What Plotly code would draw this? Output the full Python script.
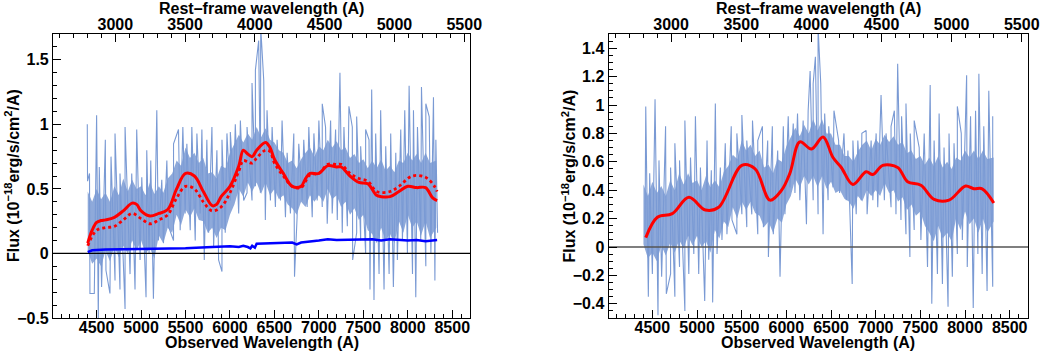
import plotly.graph_objects as go

# redshift factor used for the rest-frame (top) axis
ONE_PLUS_Z = 1.57
X_RANGE = [4010, 8705]

# ---- left panel: noisy spectrum, read as upper / lower excursions ----
left_hi_wl = [4395, 4420, 4500, 4530, 4598, 4662, 4707, 4763, 4820, 4895, 4951, 5008, 5064, 5109,
              5177, 5233, 5290, 5365, 5421, 5470, 5515, 5571, 5628, 5684, 5740, 5797, 5853, 5910,
              5966, 6004, 6060, 6117, 6192, 6248, 6286, 6323, 6346, 6380, 6417, 6474, 6530, 6586,
              6643, 6718, 6774, 6830, 6887, 6944, 7000, 7038, 7075, 7132, 7188, 7237, 7282, 7338,
              7376, 7425, 7470, 7526, 7564, 7594, 7639, 7695, 7752, 7808, 7865, 7921, 7966, 8015,
              8064, 8109, 8154, 8203, 8241, 8289, 8316]
left_hi = [1.00, 0.62, 1.07, 0.67, 0.88, 0.75, 0.93, 0.62, 0.98, 0.62, 0.96, 0.59, 0.80, 0.72,
           1.11, 0.57, 0.72, 0.85, 0.96, 0.98, 0.85, 0.98, 0.93, 0.96, 0.88, 0.98, 0.80, 0.88,
           0.93, 0.94, 1.00, 1.03, 0.98, 1.32, 1.42, 1.65, 1.75, 1.34, 1.11, 0.98, 0.88, 1.03,
           0.78, 0.93, 0.85, 0.88, 0.98, 0.93, 1.03, 1.16, 0.98, 1.03, 0.96, 1.40, 0.98, 1.14,
           0.98, 1.06, 0.83, 0.96, 0.88, 1.27, 0.93, 1.11, 0.83, 0.93, 0.78, 0.96, 1.11, 1.30,
           1.11, 0.98, 1.29, 1.16, 1.06, 1.21, 0.88]
left_lo_wl = [4398, 4425, 4474, 4519, 4556, 4605, 4650, 4707, 4763, 4820, 4876, 4932, 4989, 5056,
              5090, 5139, 5195, 5252, 5308, 5365, 5440, 5496, 5553, 5609, 5665, 5711, 5760, 5816,
              5872, 5910, 5947, 6004, 6041, 6098, 6154, 6192, 6248, 6286, 6342, 6398, 6455, 6511,
              6568, 6624, 6680, 6726, 6755, 6812, 6868, 6925, 6981, 7038, 7094, 7150, 7207, 7263,
              7320, 7380, 7425, 7470, 7526, 7575, 7620, 7677, 7733, 7790, 7838, 7883, 7940, 7996,
              8053, 8090, 8146, 8203, 8260, 8305, 8335]
left_lo = [0.56, -0.31, -0.31, -0.52, -0.26, -0.13, -0.31, -0.21, -0.28, -0.43, -0.16, -0.28, -0.05, -0.34,
           0.00, -0.35, 0.10, 0.08, 0.21, 0.10, 0.18, 0.31, 0.18, 0.10, 0.31, -0.05, 0.16, 0.05,
           -0.05, -0.14, 0.16, 0.41, 0.52, 0.31, 0.41, 0.47, 0.41, 0.52, 0.47, 0.26, 0.41, 0.36,
           0.41, 0.28, 0.31, -0.18, 0.28, 0.41, 0.36, 0.28, 0.41, 0.36, 0.23, 0.31, 0.26, 0.16,
           0.21, -0.05, 0.16, 0.10, 0.00, -0.28, -0.36, -0.16, -0.28, -0.16, -0.26, -0.05, 0.10, 0.00,
           -0.16, -0.34, 0.10, -0.10, 0.00, -0.21, 0.16]

# dense core of the spectrum (where most of the pixels pile up), jagged edges
core_wl = [4400, 4450, 4500, 4550, 4600, 4650, 4700, 4750, 4800, 4850, 4900, 4950, 5000, 5050,
           5100, 5150, 5200, 5250, 5300, 5350, 5400, 5450, 5500, 5550, 5600, 5650, 5700, 5750,
           5800, 5850, 5900, 5950, 6000, 6050, 6100, 6150, 6200, 6250, 6300, 6350, 6400, 6450,
           6500, 6550, 6600, 6650, 6700, 6750, 6800, 6850, 6900, 6950, 7000, 7050, 7100, 7150,
           7200, 7250, 7300, 7350, 7400, 7450, 7500, 7550, 7600, 7650, 7700, 7750, 7800, 7850,
           7900, 7950, 8000, 8050, 8100, 8150, 8200, 8250, 8320]
left_core_hi = [0.48, 0.40, 0.50, 0.42, 0.47, 0.40, 0.52, 0.45, 0.58, 0.48, 0.57, 0.50, 0.52, 0.45,
                0.55, 0.46, 0.52, 0.47, 0.58, 0.62, 0.72, 0.68, 0.82, 0.74, 0.78, 0.70, 0.74, 0.62,
                0.63, 0.58, 0.68, 0.66, 0.78, 0.85, 0.92, 0.86, 0.93, 0.88, 0.98, 0.90, 0.97, 0.88,
                0.86, 0.80, 0.78, 0.70, 0.72, 0.66, 0.73, 0.78, 0.82, 0.75, 0.83, 0.80, 0.88, 0.82,
                0.87, 0.80, 0.82, 0.74, 0.77, 0.70, 0.73, 0.66, 0.72, 0.66, 0.73, 0.64, 0.68, 0.63,
                0.72, 0.70, 0.78, 0.72, 0.77, 0.70, 0.78, 0.70, 0.72]
left_core_lo = [0.02, -0.08, -0.04, -0.10, 0.02, -0.06, 0.05, -0.03, 0.06, 0.00, 0.10, 0.02, 0.10, 0.00,
                0.04, -0.04, 0.14, 0.08, 0.20, 0.16, 0.30, 0.22, 0.34, 0.28, 0.35, 0.26, 0.25, 0.16,
                0.20, 0.12, 0.20, 0.18, 0.30, 0.38, 0.50, 0.44, 0.55, 0.48, 0.55, 0.46, 0.55, 0.45,
                0.50, 0.42, 0.45, 0.38, 0.35, 0.30, 0.40, 0.36, 0.45, 0.40, 0.45, 0.40, 0.50, 0.42,
                0.45, 0.36, 0.40, 0.30, 0.35, 0.26, 0.30, 0.18, 0.15, 0.08, 0.20, 0.10, 0.15, 0.08,
                0.25, 0.16, 0.30, 0.20, 0.25, 0.14, 0.25, 0.12, 0.20]

# smoothed spectrum (solid) and alternative smoothing (dotted)
left_fit_wl = [4400, 4450, 4500, 4550, 4600, 4700, 4800, 4900, 4950, 5000, 5100, 5200, 5300, 5400,
               5500, 5600, 5700, 5800, 5850, 5900, 6000, 6100, 6150, 6200, 6250, 6300, 6400, 6450,
               6500, 6600, 6700, 6800, 6850, 6900, 7000, 7100, 7200, 7250, 7350, 7450, 7550, 7650,
               7700, 7800, 7900, 8000, 8100, 8200, 8280, 8330]
left_fit = [0.08, 0.18, 0.24, 0.255, 0.26, 0.28, 0.33, 0.39, 0.38, 0.33, 0.29, 0.31, 0.34, 0.50,
            0.62, 0.60, 0.48, 0.37, 0.38, 0.44, 0.52, 0.68, 0.80, 0.77, 0.75, 0.80, 0.86, 0.82,
            0.73, 0.62, 0.52, 0.52, 0.58, 0.62, 0.62, 0.68, 0.67, 0.67, 0.60, 0.55, 0.54, 0.45,
            0.44, 0.44, 0.48, 0.52, 0.51, 0.51, 0.43, 0.41]
left_alt_wl = [4400, 4500, 4600, 4700, 4800, 4900, 5000, 5100, 5200, 5300, 5400, 5500, 5600, 5700,
               5800, 5900, 6000, 6100, 6150, 6200, 6250, 6300, 6400, 6450, 6500, 6600, 6700, 6800,
               6900, 7000, 7100, 7200, 7250, 7350, 7450, 7550, 7650, 7800, 7900, 8050, 8200, 8300, 8330]
left_alt = [0.06, 0.18, 0.20, 0.21, 0.26, 0.31, 0.27, 0.23, 0.26, 0.30, 0.43, 0.52, 0.50, 0.40,
            0.33, 0.36, 0.47, 0.64, 0.72, 0.71, 0.70, 0.74, 0.80, 0.79, 0.70, 0.60, 0.52, 0.51,
            0.61, 0.62, 0.69, 0.69, 0.69, 0.62, 0.58, 0.56, 0.48, 0.48, 0.52, 0.60, 0.59, 0.52, 0.48]

# error spectrum
left_err_wl = [4400, 4450, 4600, 5000, 5500, 5800, 6000, 6100, 6150, 6200, 6230, 6250, 6280, 6300,
               6500, 6700, 6750, 6800, 7000, 7100, 7200, 7500, 7600, 7700, 7800, 8000, 8100, 8200,
               8300, 8330]
left_err = [0.01, 0.025, 0.03, 0.035, 0.04, 0.05, 0.055, 0.05, 0.06, 0.05, 0.04, 0.06, 0.045, 0.075,
            0.08, 0.085, 0.07, 0.085, 0.10, 0.11, 0.105, 0.11, 0.11, 0.10, 0.11, 0.10, 0.105, 0.095,
            0.10, 0.105]

# ---- right panel ----
right_hi_wl = [4426, 4470, 4530, 4574, 4648, 4704, 4752, 4804, 4864, 4927, 4982, 5038, 5112, 5160,
               5205, 5261, 5316, 5383, 5446, 5502, 5557, 5621, 5680, 5732, 5791, 5843, 5903, 5966,
               6021, 6077, 6125, 6188, 6244, 6266, 6300, 6325, 6355, 6385, 6429, 6474, 6533, 6585,
               6645, 6689, 6745, 6800, 6845, 6893, 6949, 7005, 7060, 7116, 7172, 7209, 7246, 7290,
               7339, 7387, 7431, 7487, 7543, 7610, 7654, 7710, 7765, 7821, 7877, 7914, 7958, 8018,
               8062, 8118, 8155, 8210, 8266, 8310]
right_hi = [0.99, 0.52, 1.04, 0.61, 0.85, 0.56, 0.73, 0.61, 0.89, 0.63, 0.92, 0.56, 0.75, 0.54,
            1.01, 0.56, 0.73, 0.85, 0.80, 0.93, 0.75, 0.89, 0.75, 0.85, 0.75, 0.85, 0.68, 0.85,
            0.92, 0.87, 0.94, 0.89, 0.96, 1.24, 1.15, 1.34, 1.55, 1.15, 0.94, 0.85, 0.96, 0.75,
            0.80, 0.68, 0.75, 0.75, 0.80, 0.82, 0.75, 0.80, 1.07, 0.80, 0.85, 0.96, 1.29, 0.92,
            1.01, 0.80, 0.89, 0.70, 0.80, 1.14, 0.75, 0.94, 0.70, 0.80, 0.73, 0.99, 0.80, 1.21,
            0.92, 0.96, 1.22, 0.85, 1.10, 0.92]
right_lo_wl = [4418, 4455, 4500, 4563, 4604, 4656, 4704, 4752, 4804, 4864, 4908, 4964, 5019, 5086,
               5131, 5175, 5224, 5279, 5335, 5391, 5446, 5502, 5557, 5613, 5680, 5743, 5799, 5854,
               5929, 5984, 6040, 6096, 6151, 6225, 6300, 6355, 6411, 6467, 6522, 6596, 6671, 6737,
               6782, 6838, 6904, 6968, 7023, 7097, 7172, 7227, 7283, 7339, 7383, 7431, 7506, 7580,
               7628, 7691, 7747, 7810, 7858, 7914, 7970, 8025, 8092, 8144, 8192, 8247, 8310]
right_lo = [0.09, -0.35, -0.19, -0.48, -0.21, -0.33, -0.19, -0.35, -0.14, -0.45, -0.19, -0.05, -0.19, -0.38,
            -0.09, -0.39, -0.05, 0.05, 0.09, 0.19, 0.09, 0.23, 0.14, 0.23, 0.09, 0.14, -0.07, 0.09,
            -0.21, 0.23, 0.42, 0.38, 0.33, 0.16, 0.33, 0.23, 0.09, 0.33, 0.42, 0.38, 0.33, -0.26,
            0.23, 0.33, 0.23, 0.33, 0.28, 0.33, 0.28, 0.23, 0.19, 0.09, -0.07, 0.12, 0.05, -0.14,
            -0.40, -0.19, -0.26, -0.42, -0.21, -0.05, 0.05, -0.14, -0.43, -0.05, -0.19, -0.31, -0.28]
right_core_hi = [0.44, 0.36, 0.46, 0.38, 0.43, 0.36, 0.47, 0.40, 0.52, 0.44, 0.52, 0.45, 0.47, 0.40,
                 0.50, 0.42, 0.47, 0.42, 0.53, 0.57, 0.65, 0.62, 0.75, 0.68, 0.72, 0.64, 0.68, 0.56,
                 0.58, 0.52, 0.62, 0.60, 0.71, 0.78, 0.84, 0.78, 0.86, 0.80, 0.90, 0.82, 0.90, 0.80,
                 0.80, 0.72, 0.72, 0.64, 0.64, 0.60, 0.67, 0.72, 0.75, 0.68, 0.76, 0.72, 0.79, 0.74,
                 0.78, 0.72, 0.74, 0.66, 0.68, 0.62, 0.64, 0.58, 0.63, 0.57, 0.64, 0.56, 0.60, 0.55,
                 0.63, 0.61, 0.68, 0.63, 0.68, 0.62, 0.68, 0.62, 0.63]
right_core_lo = [0.02, -0.08, -0.04, -0.10, 0.01, -0.06, 0.03, -0.04, 0.05, -0.01, 0.08, 0.01, 0.08, 0.00,
                 0.04, -0.04, 0.12, 0.06, 0.18, 0.14, 0.28, 0.20, 0.32, 0.26, 0.32, 0.24, 0.22, 0.14,
                 0.18, 0.10, 0.20, 0.17, 0.30, 0.36, 0.48, 0.42, 0.50, 0.44, 0.50, 0.42, 0.50, 0.41,
                 0.46, 0.38, 0.40, 0.34, 0.32, 0.27, 0.36, 0.32, 0.40, 0.36, 0.40, 0.36, 0.45, 0.38,
                 0.40, 0.32, 0.35, 0.26, 0.30, 0.22, 0.25, 0.15, 0.10, 0.04, 0.15, 0.06, 0.10, 0.04,
                 0.20, 0.12, 0.25, 0.16, 0.20, 0.10, 0.20, 0.10, 0.18]

right_fit_wl = [4426, 4556, 4723, 4908, 5094, 5242, 5502, 5650, 5817, 5947, 6040, 6151, 6281, 6411,
                6522, 6615, 6745, 6893, 6968, 7079, 7246, 7357, 7506, 7654, 7821, 8006, 8099, 8192, 8322]
right_fit = [0.066, 0.21, 0.235, 0.35, 0.26, 0.28, 0.575, 0.55, 0.33, 0.40, 0.52, 0.74, 0.69, 0.775,
             0.63, 0.56, 0.44, 0.53, 0.51, 0.575, 0.56, 0.46, 0.435, 0.335, 0.33, 0.43, 0.41, 0.41, 0.31]


def zigzag(hi_wl, hi, lo_wl, lo):
    pts = sorted(list(zip(hi_wl, hi)) + list(zip(lo_wl, lo)))
    return [p[0] for p in pts], [p[1] for p in pts]


SPEC_COL = "rgb(122,154,212)"
FONT = "Liberation Sans"

fig = go.Figure()


def add_spectrum(hi_wl, hi, lo_wl, lo, core_hi, core_lo, xa, ya):
    # filled core band (closed polygon) plus the spiky zigzag on top
    fig.add_trace(go.Scatter(x=core_wl + core_wl[::-1], y=core_hi + core_lo[::-1], mode="lines",
                             fill="toself", fillcolor="rgba(122,154,212,0.85)",
                             line=dict(width=0), xaxis=xa, yaxis=ya, hoverinfo="skip"))
    zx, zy = zigzag(hi_wl, hi, lo_wl, lo)
    fig.add_trace(go.Scatter(x=zx, y=zy, mode="lines", line=dict(color=SPEC_COL, width=1.1),
                             xaxis=xa, yaxis=ya))


# left panel
add_spectrum(left_hi_wl, left_hi, left_lo_wl, left_lo, left_core_hi, left_core_lo, "x", "y")
fig.add_trace(go.Scatter(x=X_RANGE, y=[0, 0], mode="lines", line=dict(color="black", width=1.2),
                         xaxis="x", yaxis="y"))
fig.add_trace(go.Scatter(x=left_err_wl, y=left_err, mode="lines", line=dict(color="#0000ff", width=2.5),
                         xaxis="x", yaxis="y"))
fig.add_trace(go.Scatter(x=left_alt_wl, y=left_alt, mode="lines", line_shape="spline",
                         line=dict(color="#ff0000", width=2.8, dash="dot"), xaxis="x", yaxis="y"))
fig.add_trace(go.Scatter(x=left_fit_wl, y=left_fit, mode="lines", line_shape="spline",
                         line=dict(color="#ff0000", width=3), xaxis="x", yaxis="y"))

# right panel
add_spectrum(right_hi_wl, right_hi, right_lo_wl, right_lo, right_core_hi, right_core_lo, "x2", "y2")
fig.add_trace(go.Scatter(x=X_RANGE, y=[0, 0], mode="lines", line=dict(color="#555555", width=1.5),
                         xaxis="x2", yaxis="y2"))
fig.add_trace(go.Scatter(x=right_fit_wl, y=right_fit, mode="lines", line_shape="spline",
                         line=dict(color="#ff0000", width=3), xaxis="x2", yaxis="y2"))

# invisible traces so the rest-frame axes get drawn
rest_range = [X_RANGE[0] / ONE_PLUS_Z, X_RANGE[1] / ONE_PLUS_Z]
fig.add_trace(go.Scatter(x=rest_range, y=[0, 0], mode="markers", marker=dict(opacity=0),
                         xaxis="x3", yaxis="y", hoverinfo="skip"))
fig.add_trace(go.Scatter(x=rest_range, y=[0, 0], mode="markers", marker=dict(opacity=0),
                         xaxis="x4", yaxis="y2", hoverinfo="skip"))

tickfont = dict(family=FONT, size=16, color="black", weight="bold")


def xaxis_style(domain, anchor):
    return dict(domain=domain, anchor=anchor, range=X_RANGE, tickmode="linear", tick0=4500, dtick=500,
                ticks="inside", ticklen=8, tickwidth=1, tickcolor="black", ticklabelstandoff=-5,
                minor=dict(dtick=100, ticks="inside", ticklen=4, tickcolor="black"),
                showline=True, linecolor="black", linewidth=1.2, mirror=True, showgrid=False,
                zeroline=False, tickfont=tickfont)


def rest_axis(overlay, anchor):
    return dict(overlaying=overlay, anchor=anchor, side="top", range=rest_range, tickmode="linear",
                tick0=3000, dtick=500, ticks="inside", ticklen=8, tickcolor="black",
                minor=dict(dtick=100, ticks="inside", ticklen=4, tickcolor="black"),
                showline=False, showgrid=False, zeroline=False, tickfont=tickfont)


def yaxis_style(domain, anchor, rng, dtick, mdtick):
    return dict(domain=domain, anchor=anchor, range=rng, tickmode="linear", tick0=0, dtick=dtick,
                ticks="inside", ticklen=8, tickcolor="black",
                minor=dict(dtick=mdtick, ticks="inside", ticklen=4, tickcolor="black"),
                showline=True, linecolor="black", linewidth=1.2, mirror=True, showgrid=False,
                zeroline=False, tickfont=tickfont)


W, H = 1041, 354
# the page ends up drawing the figure on a slightly smaller canvas; place things for that size
PW, PH = 1028, 345
ydom = [1 - 318 / PH, 1 - 34 / PH]
xdom1 = [53 / PW, 470 / PW]
xdom2 = [608 / PW, 1027 / PW]

fig.update_layout(
    width=W, height=H, margin=dict(l=0, r=0, t=0, b=0),
    paper_bgcolor="white", plot_bgcolor="white", showlegend=False,
    xaxis=xaxis_style(xdom1, "y"),
    yaxis=yaxis_style(ydom, "x", [-0.5, 1.7], 0.5, 0.1),
    xaxis2=xaxis_style(xdom2, "y2"),
    yaxis2=yaxis_style(ydom, "x2", [-0.5, 1.5], 0.2, 0.05),
    xaxis3=rest_axis("x", "y"),
    xaxis4=rest_axis("x2", "y2"),
)

title_font = dict(family=FONT, size=16, color="black", weight="bold")
ytitle = "Flux (10<sup>\u221218</sup>erg/s/cm<sup>2</sup>/A)"
for cx, ytx in [((xdom1[0] + xdom1[1]) / 2, 12 / PW), ((xdom2[0] + xdom2[1]) / 2, 568 / PW)]:
    fig.add_annotation(text="Observed Wavelength (A)", x=cx, y=1 - 342 / PH, xref="paper", yref="paper",
                       showarrow=False, font=title_font, xanchor="center", yanchor="middle")
    fig.add_annotation(text="Rest\u2013frame wavelength (A)", x=cx, y=1 - 8 / PH, xref="paper",
                       yref="paper", showarrow=False, font=title_font, xanchor="center", yanchor="middle")
    fig.add_annotation(text=ytitle, x=ytx, y=(ydom[0] + ydom[1]) / 2, xref="paper", yref="paper",
                       showarrow=False, font=title_font, textangle=-90, xanchor="center", yanchor="middle")

# put the figure at the window origin with no scrollbars
page_fix = (
    "document.documentElement.style.overflow='hidden';"
    "document.body.style.margin='0';"
    "document.body.style.overflow='hidden';"
)
fig.write_html("out.html", config={"displayModeBar": False}, post_script=page_fix)
